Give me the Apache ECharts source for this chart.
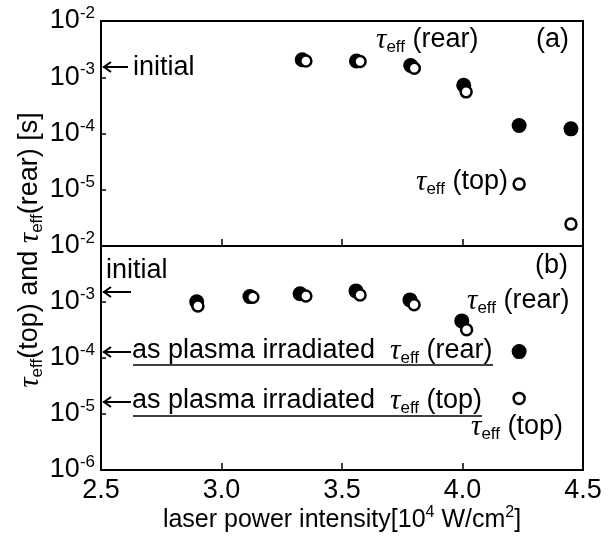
<!DOCTYPE html>
<html>
<head>
<meta charset="utf-8">
<script src="https://cdn.jsdelivr.net/npm/echarts@6/dist/echarts.min.js"></script>
<style>
  html, body { margin: 0; padding: 0; background: #fff; }
  #main { width: 612px; height: 544px; }
</style>
</head>
<body>
<div id="main"></div>
<script>
// x axis (laser power intensity, 10^4 W/cm2)
var xMin = 2.5, xMax = 4.5, xStep = 0.5;
// y axis (lifetime, s), log scale
var yMin = 1e-6, yMax = 1e-2;

// panel (a)
var xRearA = [3.335, 3.56, 3.785, 4.005, 4.235, 4.45];
var rearA  = [2.05e-3, 1.95e-3, 1.62e-3, 7.2e-4, 1.39e-4, 1.21e-4];
var xTopA  = [3.35, 3.575, 3.8, 4.015, 4.235, 4.45];
var topA   = [1.95e-3, 1.9e-3, 1.45e-3, 5.5e-4, 1.26e-5, 2.45e-6];

// panel (b)
var xRearB = [2.897, 3.118, 3.326, 3.558, 3.782, 3.997, 4.235];
var rearB  = [1.01e-3, 1.25e-3, 1.4e-3, 1.58e-3, 1.09e-3, 4.6e-4, 1.3e-4];
var xTopB  = [2.902, 3.13, 3.35, 3.575, 3.799, 4.017, 4.235];
var topB   = [8.5e-4, 1.22e-3, 1.28e-3, 1.33e-3, 8.9e-4, 3.2e-4, 1.9e-5];

function pairs(xs, ys) {
  var out = [];
  for (var i = 0; i < xs.length; i++) out.push([xs[i], ys[i]]);
  return out;
}

var SANS = 'Liberation Sans';
var FS = 27;
var rich = {
  n: { fontFamily: SANS, fontSize: FS, lineHeight: 32, color: '#000' },
  t: { fontFamily: 'Liberation Serif', fontStyle: 'italic', fontSize: 29, lineHeight: 32, color: '#000' },
  e: { fontFamily: SANS, fontSize: 17, lineHeight: 17, verticalAlign: 'bottom', color: '#000' },
  s: { fontFamily: SANS, fontSize: 17, lineHeight: 17, verticalAlign: 'top', color: '#000' },
  xn: { fontFamily: SANS, fontSize: 25, lineHeight: 30, color: '#000' },
  xs: { fontFamily: SANS, fontSize: 16, lineHeight: 16, verticalAlign: 'top', color: '#000' }
};

function powLabel(v) {
  var e = Math.round(Math.log10(v));
  return '{n|10}{s|' + e + '}';
}

function xAxisOf(gi, showLabel) {
  return {
    type: 'value', gridIndex: gi, min: xMin, max: xMax, interval: xStep,
    axisLine: { show: true, onZero: false, lineStyle: { color: '#000', width: 2 } },
    axisTick: { show: true, inside: true, length: 7, lineStyle: { color: '#000', width: 1.5 } },
    axisLabel: {
      show: showLabel, margin: 7, color: '#000', fontFamily: SANS, fontSize: FS,
      formatter: function (v) { return v.toFixed(1); }
    },
    splitLine: { show: false }
  };
}

function yAxisOf(gi, showMin) {
  return {
    type: 'log', logBase: 10, gridIndex: gi, min: yMin, max: yMax,
    axisLine: { show: true, lineStyle: { color: '#000', width: 2 } },
    axisTick: { show: true, inside: true, length: 5, lineStyle: { color: '#000', width: 1.5 } },
    minorTick: { show: false },
    axisLabel: {
      margin: 6, showMinLabel: showMin, showMaxLabel: true,
      formatter: powLabel, rich: rich
    },
    splitLine: { show: false }
  };
}

function annot(x, y, text) {
  return {
    type: 'text', x: x, y: y, z: 50,
    style: {
      text: text, rich: rich, fill: '#000',
      font: FS + 'px ' + SANS,
      textAlign: 'left', textVerticalAlign: 'middle',
      align: 'left', verticalAlign: 'middle'
    }
  };
}

// left-pointing arrow toward the y axis
function arrow(x1, x2, y) {
  return {
    type: 'group', z: 50,
    children: [
      { type: 'line', shape: { x1: x1, y1: y, x2: x2, y2: y }, style: { stroke: '#000', lineWidth: 2 } },
      { type: 'polyline', shape: { points: [[x1 + 8, y - 5], [x1 + 1, y], [x1 + 8, y + 5]] }, style: { stroke: '#000', lineWidth: 2, fill: null } }
    ]
  };
}

function uline(x1, x2, y) {
  return {
    type: 'line', z: 50,
    shape: { x1: x1, y1: y, x2: x2, y2: y },
    style: { stroke: '#000', lineWidth: 1.5 }
  };
}

var filled = { color: '#000', opacity: 1 };
var open = { color: '#fff', borderColor: '#000', borderWidth: 2.5, opacity: 1 };

var chart = echarts.init(document.getElementById('main'));
chart.setOption({
  animation: false,
  backgroundColor: '#fff',
  grid: [
    { left: 101, right: 29, top: 21, height: 225, show: true, borderColor: '#000', borderWidth: 2, backgroundColor: 'transparent' },
    { left: 101, right: 29, top: 246, height: 224, show: true, borderColor: '#000', borderWidth: 2, backgroundColor: 'transparent' }
  ],
  xAxis: [
    xAxisOf(0, false),
    (function () {
      var ax = xAxisOf(1, true);
      ax.name = '{xn|laser power intensity[10}{xs|4}{xn| W/cm}{xs|2}{xn|]}';
      ax.nameLocation = 'middle';
      ax.nameGap = 33;
      ax.nameTextStyle = { rich: rich };
      return ax;
    })()
  ],
  yAxis: [yAxisOf(0, false), yAxisOf(1, true)],
  series: [
    { type: 'scatter', xAxisIndex: 0, yAxisIndex: 0, symbol: 'circle', symbolSize: 15, itemStyle: filled, data: pairs(xRearA, rearA) },
    { type: 'scatter', xAxisIndex: 0, yAxisIndex: 0, symbol: 'circle', symbolSize: 11, itemStyle: open, data: pairs(xTopA, topA) },
    { type: 'scatter', xAxisIndex: 1, yAxisIndex: 1, symbol: 'circle', symbolSize: 15, itemStyle: filled, data: pairs(xRearB, rearB) },
    { type: 'scatter', xAxisIndex: 1, yAxisIndex: 1, symbol: 'circle', symbolSize: 11, itemStyle: open, data: pairs(xTopB, topB) }
  ],
  graphic: [
    // y axis title, rotated
    {
      type: 'text', x: 30, y: 250, rotation: Math.PI / 2, z: 50,
      style: {
        text: '{t|τ}{e|eff}{n|(top) and }{t|τ}{e|eff}{n|(rear) [s]}', rich: rich, fill: '#000',
        font: FS + 'px ' + SANS,
        textAlign: 'center', textVerticalAlign: 'middle',
        align: 'center', verticalAlign: 'middle'
      }
    },
    // panel (a)
    arrow(103, 128, 67),
    annot(133, 68, '{n|initial}'),
    annot(376, 40, '{t|τ}{e|eff}{n| (rear)}'),
    annot(536, 40, '{n|(a)}'),
    annot(416, 182, '{t|τ}{e|eff}{n| (top)}'),
    // panel (b)
    annot(535, 266, '{n|(b)}'),
    annot(106, 271, '{n|initial}'),
    arrow(103, 131, 292),
    annot(467, 301, '{t|τ}{e|eff}{n| (rear)}'),
    arrow(103, 131, 352),
    annot(132, 351, '{n|as plasma irradiated  }{t|τ}{e|eff}{n| (rear)}'),
    uline(133, 493, 365),
    arrow(103, 131, 402),
    annot(132, 401, '{n|as plasma irradiated  }{t|τ}{e|eff}{n| (top)}'),
    uline(133, 482, 416),
    annot(471, 427, '{t|τ}{e|eff}{n| (top)}')
  ]
});
</script>
</body>
</html>
